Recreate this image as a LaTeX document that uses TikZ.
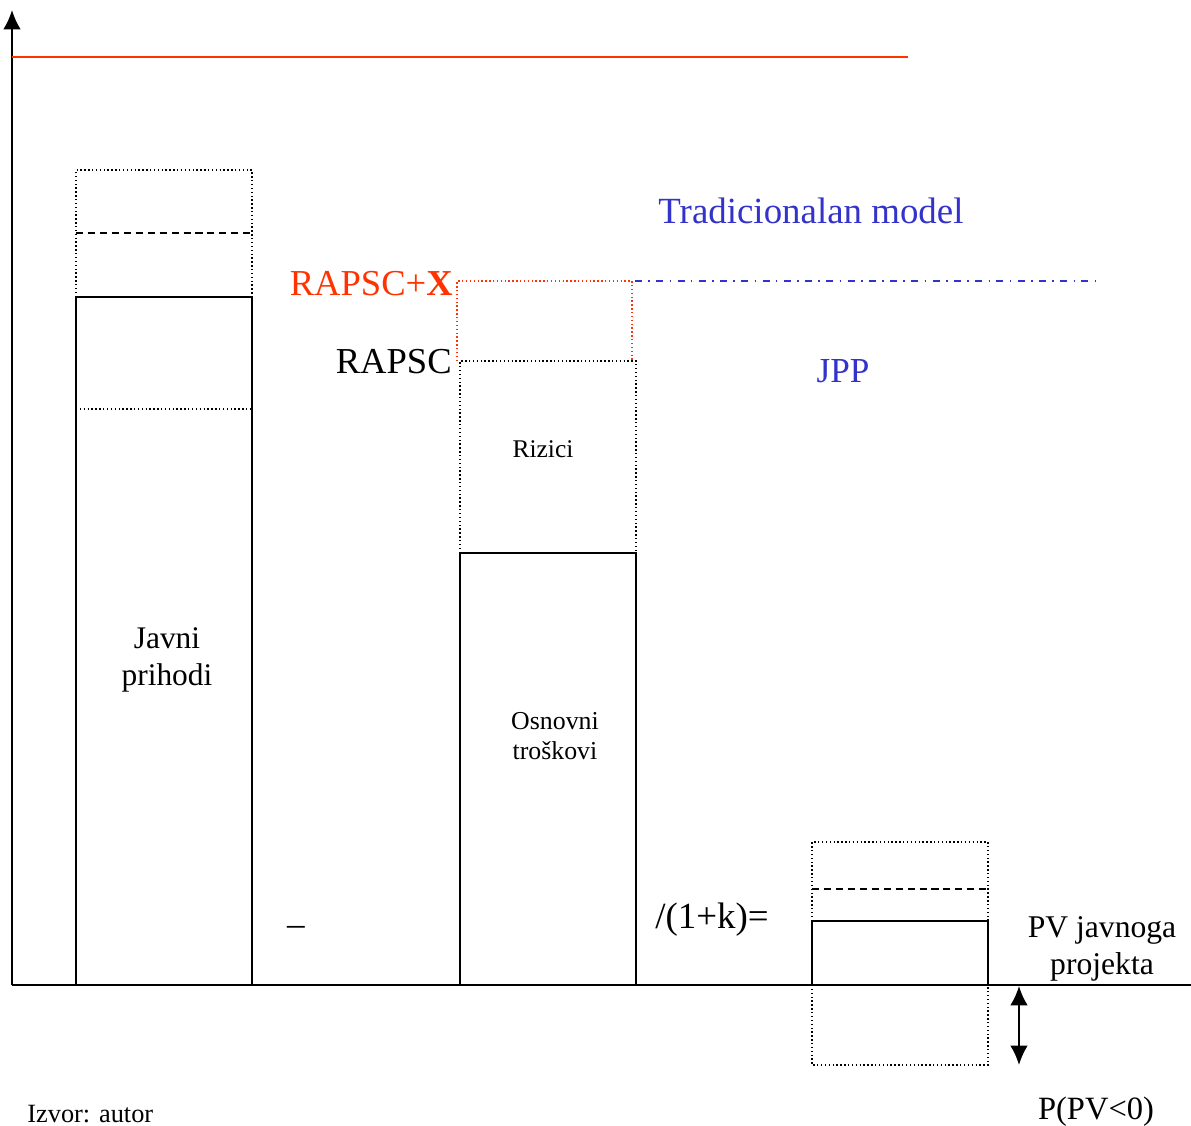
\documentclass[tikz,border=0pt]{standalone}
\usepackage{fontspec}
\setmainfont{Liberation Serif}
\usetikzlibrary{arrows.meta}
\definecolor{rapred}{RGB}{255,51,0}
\definecolor{tradblue}{RGB}{51,51,204}
\newcommand{\fsz}[1]{\fontsize{#1}{#1}\selectfont}
\tikzset{
  axisline/.style={line width=1.2pt},
  solidbox/.style={draw, line width=1.2pt},
  dotbox/.style={line width=0.8pt, dash pattern=on 0.8pt off 1.4pt},
  dashln/.style={line width=0.9pt, dash pattern=on 4pt off 2.8pt},
  dashdotln/.style={line width=0.9pt, tradblue, dash pattern=on 4pt off 3.6pt on 0.9pt off 3.6pt},
  lbl/.style={inner sep=0pt, anchor=base},
  bigtip/.tip={Latex[length=11pt,width=10pt]},
}
\begin{document}
\begin{tikzpicture}[x={(0.02cm,0)}, y={(0,-0.02cm)}]
\useasboundingbox (0,0) rectangle (1191,1126);

% axes
\coordinate (O) at (12,985);
\coordinate (ytop) at (12,10);
\coordinate (xend) at (1191,985);
\draw[axisline, -{bigtip}] (O) -- (ytop);
\draw[axisline] (O) -- (xend);

% red top line
\coordinate (r1) at (12,57);
\coordinate (r2) at (908,57);
\draw[line width=1.2pt, rapred] (r1) -- (r2);

% box 1: Javni prihodi
\draw[solidbox] (76,985) -- (76,297) -- (252,297) -- (252,985);
\draw[dotbox] (76,297) -- (76,170) -- (252,170) -- (252,297);
\draw[dashln] (76,233) -- (252,233);
\draw[dotbox] (76,409) -- (252,409);
\node[lbl, font=\fsz{17.9}] (javni) at (167,648) {Javni};
\node[lbl, font=\fsz{17.9}] (prihodi) at (167,685) {prihodi};

% box 2: Osnovni troskovi + Rizici
\draw[solidbox] (460,985) -- (460,553) -- (636,553) -- (636,985);
\draw[dotbox] (460,553) -- (460,361) -- (636,361) -- (636,553);
\draw[dotbox, rapred] (457,361) -- (457,281) -- (632,281) -- (632,361);
\node[lbl, font=\fsz{14.5}] (rizici) at (543,457) {Rizici};
\node[lbl, font=\fsz{14.7}] (osnovni) at (555,729) {Osnovni};
\node[lbl, font=\fsz{14.7}] (troskovi) at (555,759) {troškovi};

% labels RAPSC
\node[lbl, anchor=base east, font=\fsz{20.8}, text=rapred] (rapscx) at (453,295) {RAPSC+\textbf{X}};
\node[lbl, anchor=base east, font=\fsz{20.8}] (rapsc) at (452,373) {RAPSC};

% blue line and labels
\coordinate (b1) at (635,281);
\coordinate (b2) at (1100,281);
\draw[dashdotln] (b1) -- (b2);
\node[lbl, font=\fsz{21}, text=tradblue] (trad) at (811,223) {Tradicionalan model};
\node[lbl, font=\fsz{20}, text=tradblue] (jpp) at (843,382) {JPP};

% operators
\node[lbl, font=\fsz{20}] (minus) at (296,935) {–};
\node[lbl, anchor=base west, font=\fsz{21}] (disc) at (655,928) {/(1+k)=};

% PV box
\draw[solidbox] (812,985) -- (812,921) -- (988,921) -- (988,985);
\draw[dotbox] (812,921) -- (812,842) -- (988,842) -- (988,921);
\draw[dashln] (812,889) -- (988,889);
\draw[dotbox] (812,985) -- (812,1065) -- (988,1065) -- (988,985);
\node[lbl, font=\fsz{18}] (pvj) at (1102,937) {PV javnoga};
\node[lbl, font=\fsz{18}] (proj) at (1102,974) {projekta};

% double arrow
\coordinate (a1) at (1019,986);
\coordinate (a2) at (1019,1065);
\draw[line width=1.2pt, {bigtip}-{bigtip}] (a1) -- (a2);
\node[lbl, font=\fsz{18.5}] (ppv) at (1096,1119) {P(PV<0)};

% source
\node[lbl, anchor=base west, font=\fsz{15}] (izvor) at (27,1122) {Izvor: autor};
\end{tikzpicture}
\end{document}
